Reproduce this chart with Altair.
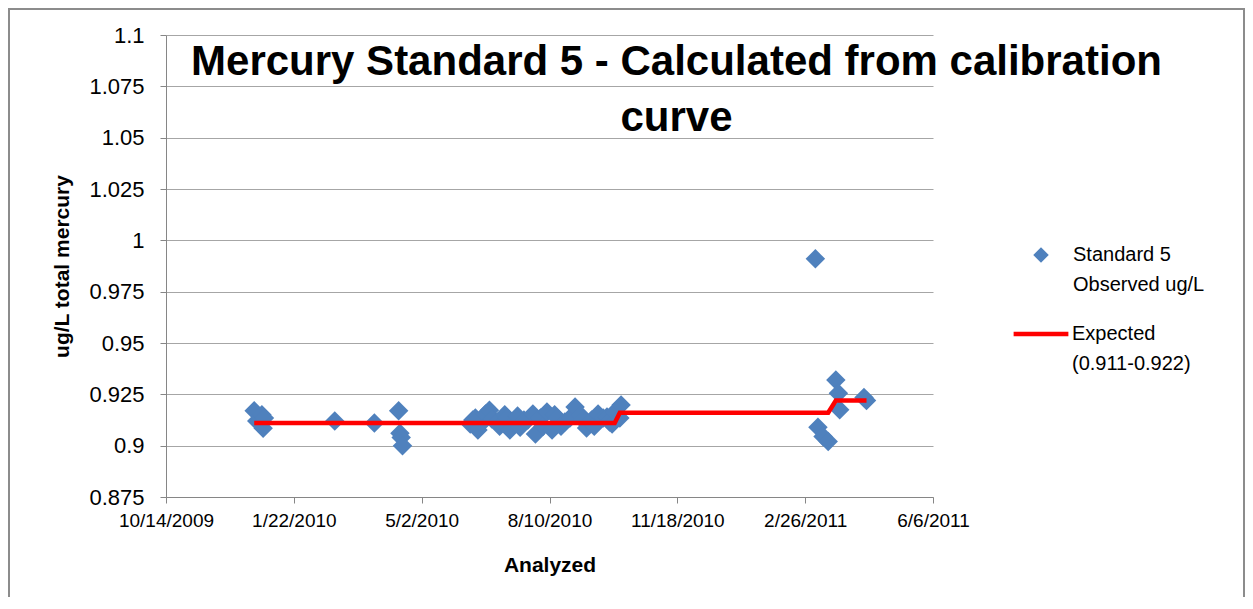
import altair as alt
import pandas as pd

# ---- data ----
analyzed = [
    "2009-12-22", "2009-12-24", "2009-12-28", "2009-12-29", "2009-12-30",
    "2010-02-23", "2010-03-26",
    "2010-04-14", "2010-04-15", "2010-04-16", "2010-04-17",
    "2010-06-09", "2010-06-11", "2010-06-13", "2010-06-15", "2010-06-18",
    "2010-06-21", "2010-06-24", "2010-06-26", "2010-06-30",
    "2010-07-02", "2010-07-06", "2010-07-08", "2010-07-10", "2010-07-13",
    "2010-07-16", "2010-07-18", "2010-07-21", "2010-07-24", "2010-07-28",
    "2010-07-30",
    "2010-08-03", "2010-08-05", "2010-08-08", "2010-08-12", "2010-08-14",
    "2010-08-16", "2010-08-19", "2010-08-22", "2010-08-26", "2010-08-30",
    "2010-09-03", "2010-09-05", "2010-09-08", "2010-09-12", "2010-09-14",
    "2010-09-17", "2010-09-21", "2010-09-24", "2010-09-26", "2010-09-28",
    "2010-09-30",
    "2010-10-04", "2010-10-05",
    "2011-03-06", "2011-03-08", "2011-03-12", "2011-03-16",
    "2011-03-22", "2011-03-24", "2011-03-25", "2011-04-13", "2011-04-15",
]
observed = [
    0.917, 0.912, 0.915, 0.9085, 0.9135,
    0.912, 0.911,
    0.917, 0.906, 0.904, 0.900,
    0.9105, 0.9125, 0.9135, 0.9076, 0.911,
    0.9154, 0.9173, 0.913, 0.9115,
    0.9095, 0.915, 0.9135, 0.9076, 0.911,
    0.9144, 0.909, 0.9125, 0.9125, 0.9154,
    0.9057,
    0.9135, 0.9095, 0.9164, 0.9076, 0.915,
    0.9135, 0.9095, 0.9115, 0.9135, 0.9188,
    0.915, 0.9125, 0.9086, 0.9125, 0.9095,
    0.9154, 0.9135, 0.914, 0.9115, 0.9105,
    0.9164,
    0.9135, 0.9198,
    0.991, 0.909, 0.9045, 0.902,
    0.932, 0.9255, 0.9175, 0.9235, 0.922,
]
expected = [0.911] * 52 + [0.916] * 6 + [0.922] * 5

series_obs = "Standard 5|Observed ug/L"
series_exp = "Expected|(0.911-0.922)"

x_ticks = ["2009-10-14", "2010-01-22", "2010-05-02", "2010-08-10",
           "2010-11-18", "2011-02-26", "2011-06-06"]
y_ticks = [0.875, 0.9, 0.925, 0.95, 0.975, 1.0, 1.025, 1.05, 1.075, 1.1]

df = pd.DataFrame({
    "Analyzed": analyzed,
    "Observed": observed,
    "Expected": expected,
    "s_obs": series_obs,
    "s_exp": series_exp,
})

FONT = "Liberation Sans, Arial, sans-serif"


def dt(s):
    y, m, d = (int(v) for v in s.split("-"))
    return alt.DateTime(year=y, month=m, date=d, utc=True)


x_enc = alt.X(
    "Analyzed:T",
    scale=alt.Scale(type="utc", domain=[dt(x_ticks[0]), dt(x_ticks[-1])]),
    axis=alt.Axis(
        values=[dt(t) for t in x_ticks], format="%-m/%-d/%Y", grid=False,
        title="Analyzed", labelFontSize=19, titleFontSize=21, labelPadding=8,
        titlePadding=24, tickSize=6, labelFlush=False,
    ),
)
y_scale = alt.Scale(domain=[0.875, 1.1], nice=False, zero=False)

points = alt.Chart(df).mark_point(
    shape="diamond", filled=True, size=380, opacity=1
).encode(
    x=x_enc,
    y=alt.Y(
        "Observed:Q", scale=y_scale,
        axis=alt.Axis(
            values=y_ticks, format=".4~g", title="ug/L total mercury",
            labelFontSize=22, titleFontSize=21, tickSize=6, labelPadding=16,
            titlePadding=16, grid=True,
        ),
    ),
    color=alt.Color(
        "s_obs:N",
        scale=alt.Scale(domain=[series_obs], range=["#4F81BD"]),
        legend=alt.Legend(
            title=None, orient="none", legendX=865, legendY=210,
            symbolType="diamond", symbolSize=240, labelExpr="split(datum.label, '|')",
            labelFontSize=20, labelOffset=22, labelBaseline="middle",
        ),
    ),
)

line = alt.Chart(df).mark_line(strokeWidth=4.5).encode(
    x=alt.X("Analyzed:T"),
    y=alt.Y("Expected:Q", scale=y_scale),
    stroke=alt.Stroke(
        "s_exp:N",
        scale=alt.Scale(domain=[series_exp], range=["#FF0000"]),
        legend=alt.Legend(
            title=None, orient="none", legendX=845, legendY=269,
            symbolType="stroke", symbolSize=3000, symbolStrokeWidth=4.5,
            labelExpr="split(datum.label, '|')", labelFontSize=20,
            labelOffset=1, labelBaseline="middle",
        ),
    ),
)

frame = alt.Chart(alt.Data(values=[{"f": 1}])).mark_rect(
    filled=False, stroke="#8c8c8c", strokeWidth=2
).encode(
    x=alt.value(-157), x2=alt.value(1078), y=alt.value(-26), y2=alt.value(640)
)

chart = alt.layer(frame, points, line).resolve_legend(
    color="independent", stroke="independent"
).properties(
    width=767,
    height=462,
    autosize=alt.AutoSizeParams(type="none"),
    padding={"left": 158, "top": 27, "right": 312, "bottom": 100},
    title=alt.Title(
        ["Mercury Standard 5 - Calculated from calibration", "curve"],
        fontSize=42, fontWeight="bold", font=FONT, lineHeight=56,
        anchor="middle", dx=127, dy=136, baseline="top", color="#000000",
    ),
).configure(
    font=FONT,
    background="white",
    style={"guide-label": {"lineHeight": 30}},
).configure_view(
    stroke=None,
).configure_axis(
    labelColor="#000000", titleColor="#000000", labelFont=FONT, titleFont=FONT,
    titleFontWeight="bold", domainColor="#868686", tickColor="#868686",
    gridColor="#a6a6a6", domainWidth=1, gridWidth=1,
).configure_legend(
    labelFont=FONT, labelColor="#000000", labelLimit=300,
)

chart.save("out.html", embed_options={"renderer": "svg", "actions": False})
